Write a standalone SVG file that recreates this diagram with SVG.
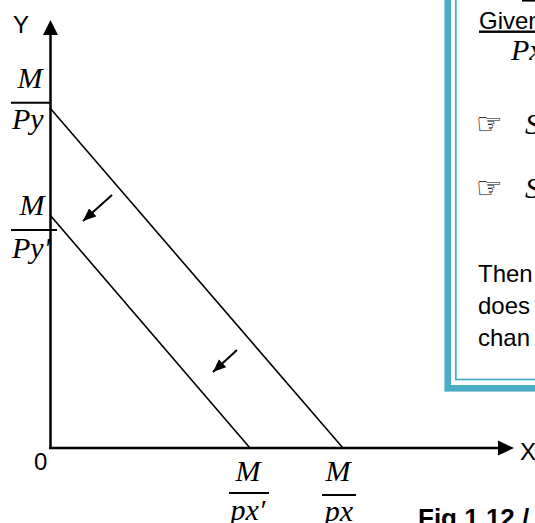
<svg xmlns="http://www.w3.org/2000/svg" width="535" height="523" viewBox="0 0 535 523">
  <style>
    .ax { stroke: #000; stroke-width: 2.5; fill: none; }
    .bl { stroke: #000; stroke-width: 1.6; fill: none; }
    .bar { stroke: #000; stroke-width: 2; }
    .math { font-family: "Liberation Serif", "Times New Roman", serif; font-style: italic; font-size: 30px; fill: #000; }
    .sans { font-family: "Liberation Sans", Arial, sans-serif; font-size: 24px; fill: #000; }
    .hand { font-family: "DejaVu Sans", sans-serif; font-size: 30px; fill: #000; }
    .teal { stroke: #4BACC6; fill: none; }
  </style>
  <defs>
    <marker id="ah" viewBox="0 0 12 10" refX="12" refY="5" markerUnits="userSpaceOnUse" markerWidth="13" markerHeight="11" orient="auto">
      <path d="M0,0 L12,5 L0,10 z" fill="#000"/>
    </marker>
  </defs>

  <g id="box">
    <rect class="teal" x="447.7" y="-20" width="200" height="408.3" stroke-width="6.6"/>
    <rect class="teal" x="455.8" y="-20" width="200" height="399.5" stroke-width="1.8"/>
    <line x1="522" y1="0.8" x2="535" y2="0.8" stroke="#000" stroke-width="1.6"/>
    <text class="sans" x="479" y="28.5" text-decoration="underline">Given</text>
    <text class="math" x="511" y="60" font-size="28">Px</text>
    <text class="hand" x="476" y="134">☞</text>
    <text class="math" x="525" y="134" font-size="32">S</text>
    <text class="hand" x="476" y="198">☞</text>
    <text class="math" x="525" y="198" font-size="32">S</text>
    <text class="sans" x="478" y="282" font-size="26">Then</text>
    <text class="sans" x="478" y="314" font-size="26">does</text>
    <text class="sans" x="478" y="346" font-size="26">chan</text>
  </g>

  <g id="axes">
    <line class="ax" x1="50.5" y1="448" x2="50.5" y2="33"/>
    <path d="M50.5,20 L43,35 L58,35 z" fill="#000"/>
    <line class="ax" x1="49" y1="448" x2="500" y2="448"/>
    <path d="M514,448 L498,440.5 L498,455.5 z" fill="#000"/>
    <text class="sans" x="13" y="33">Y</text>
    <text class="sans" x="520" y="460">X</text>
    <text class="sans" x="34" y="470">0</text>
  </g>

  <g id="budget-lines">
    <line class="bl" x1="50" y1="108" x2="343" y2="448"/>
    <line class="bl" x1="50" y1="215" x2="250" y2="448"/>
  </g>

  <g id="shift-arrows">
    <line x1="112" y1="195" x2="83" y2="221" stroke="#000" stroke-width="2" marker-end="url(#ah)"/>
    <line x1="237" y1="350" x2="213" y2="372" stroke="#000" stroke-width="2" marker-end="url(#ah)"/>
  </g>

  <g id="label-M-Py">
    <text class="math" x="30" y="88" text-anchor="middle">M</text>
    <line class="bar" x1="11" y1="102.7" x2="50" y2="102.7"/>
    <text class="math" x="12" y="129">Py</text>
  </g>
  <g id="label-M-Py-prime">
    <text class="math" x="32" y="215" text-anchor="middle" font-size="26">M</text>
    <line class="bar" x1="11" y1="230" x2="57" y2="230"/>
    <text class="math" x="12" y="258">Py′</text>
  </g>
  <g id="label-M-px-prime">
    <text class="math" x="248" y="481" text-anchor="middle">M</text>
    <line class="bar" x1="229" y1="493" x2="269" y2="493"/>
    <text class="math" x="248" y="520" text-anchor="middle">px′</text>
  </g>
  <g id="label-M-px">
    <text class="math" x="338" y="481" text-anchor="middle">M</text>
    <line class="bar" x1="322" y1="495" x2="356" y2="495"/>
    <text class="math" x="339" y="521" text-anchor="middle">px</text>
  </g>

  <g id="caption">
    <text x="418" y="527" font-family="'Liberation Sans', Arial, sans-serif" font-weight="bold" font-size="26">Fig 1.12 /</text>
  </g>
</svg>
